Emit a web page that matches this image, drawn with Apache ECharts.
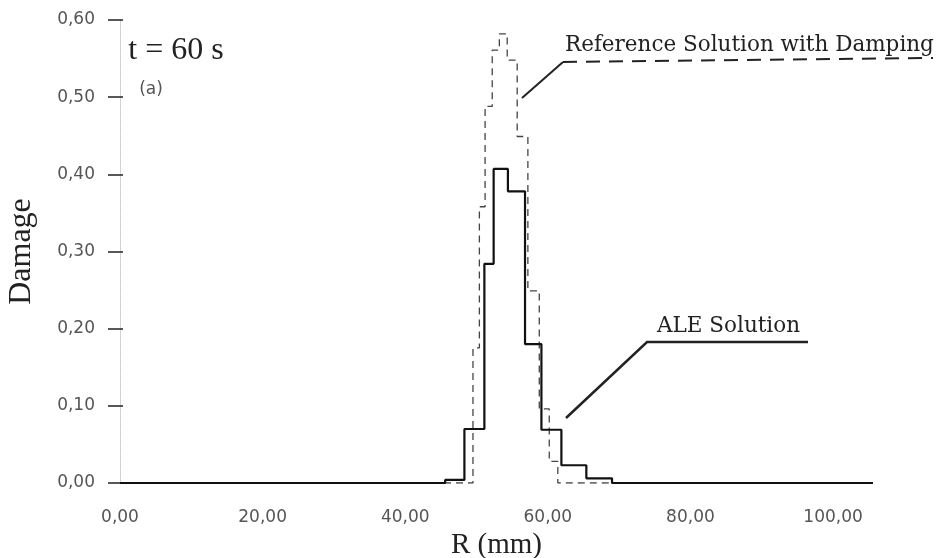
<!DOCTYPE html>
<html>
<head>
<meta charset="utf-8">
<script src="https://cdn.jsdelivr.net/npm/echarts@6/dist/echarts.min.js"></script>
<style>
  html, body { margin: 0; padding: 0; background: #fff; }
  #chart { width: 939px; height: 558px; }
</style>
</head>
<body>
<div id="chart"></div>
<script>
// step edges (mm) and damage value of each bin
const aleEdges = [0, 45.6, 48.3, 51.1, 52.4, 54.4, 56.8, 59.1, 61.9, 65.4, 69.0, 105.6];
const aleDamage = [0, 0.004, 0.070, 0.284, 0.407, 0.378, 0.180, 0.069, 0.023, 0.006, 0];

const refEdges = [0, 49.5, 50.4, 51.2, 52.2, 53.2, 54.3, 55.7, 57.2, 58.8, 60.2, 61.4, 105.6];
const refDamage = [0, 0.175, 0.358, 0.488, 0.561, 0.582, 0.548, 0.449, 0.249, 0.096, 0.028, 0];

const xTickValues = [0, 20, 40, 60, 80, 100];

const toSteps = (edges, vals) =>
    edges.map((e, i) => [e, vals[Math.min(i, vals.length - 1)]]);

const comma = (v) => v.toFixed(2).replace('.', ',');

const chart = echarts.init(document.getElementById('chart'));

chart.setOption({
    animation: false,
    backgroundColor: '#fff',
    grid: { left: 120, right: 66, top: 20, bottom: 75, outerBoundsMode: 'none' },
    xAxis: {
        type: 'value',
        min: 0,
        max: 105.6,
        interval: 20,
        name: 'R (mm)',
        nameLocation: 'middle',
        nameGap: 40,
        nameTextStyle: { fontFamily: 'Liberation Serif', fontSize: 29, color: '#222' },
        axisLine: { show: false },
        axisTick: { show: false },
        splitLine: { show: false },
        axisLabel: {
            margin: 26,
            fontFamily: 'DejaVu Sans',
            fontSize: 17,
            color: '#555',
            formatter: (v) => xTickValues.includes(v) ? comma(v) : ''
        }
    },
    yAxis: [
        {
            type: 'value',
            min: 0,
            max: 0.6,
            interval: 0.1,
            name: 'Damage',
            nameLocation: 'middle',
            nameGap: 82,
            nameTextStyle: { fontFamily: 'Liberation Serif', fontSize: 32, color: '#222' },
            axisLine: { show: true, lineStyle: { color: '#c8c8c8', type: 'dotted', width: 1 } },
            axisTick: { show: true, length: 12, lineStyle: { color: '#222', width: 1.5 } },
            splitLine: { show: false },
            axisLabel: {
                margin: 25,
                fontFamily: 'DejaVu Sans',
                fontSize: 17,
                color: '#555',
                formatter: comma
            }
        },
        {
            type: 'value',
            position: 'left',
            min: 0,
            max: 0.6,
            interval: 0.1,
            axisLine: { show: false },
            axisTick: { show: true, inside: true, length: 3, lineStyle: { color: '#222', width: 1.5 } },
            axisLabel: { show: false },
            splitLine: { show: false }
        }
    ],
    series: [
        {
            name: 'Reference Solution with Damping',
            type: 'line',
            step: 'end',
            symbol: 'none',
            data: toSteps(refEdges, refDamage),
            lineStyle: { color: '#444', width: 1.3, type: [7, 5] },
            z: 2
        },
        {
            name: 'ALE Solution',
            type: 'line',
            step: 'end',
            symbol: 'none',
            data: toSteps(aleEdges, aleDamage),
            lineStyle: { color: '#111', width: 2.2 },
            z: 3
        }
    ],
    graphic: [
        {
            type: 'text',
            style: {
                text: 't = 60 s', x: 176, y: 51,
                font: '32px "Liberation Serif"', fill: '#222',
                textAlign: 'center', textVerticalAlign: 'middle', align: 'center', verticalAlign: 'middle'
            }
        },
        {
            type: 'text',
            style: {
                text: '(a)', x: 151, y: 90,
                font: '17px "DejaVu Sans"', fill: '#555',
                textAlign: 'center', textVerticalAlign: 'middle', align: 'center', verticalAlign: 'middle'
            }
        },
        {
            type: 'text',
            style: {
                text: 'Reference Solution with Damping', x: 565, y: 45,
                font: '21.5px "DejaVu Serif"', fill: '#222',
                textAlign: 'left', textVerticalAlign: 'middle', align: 'left', verticalAlign: 'middle'
            }
        },
        {
            type: 'polyline',
            shape: { points: [[522, 98], [563, 62]] },
            style: { stroke: '#222', lineWidth: 2, fill: null }
        },
        {
            type: 'polyline',
            shape: { points: [[563, 62], [933, 58]] },
            style: { stroke: '#222', lineWidth: 2, lineDash: [14, 9], fill: null }
        },
        {
            type: 'text',
            style: {
                text: 'ALE Solution', x: 657, y: 326,
                font: '21.5px "DejaVu Serif"', fill: '#222',
                textAlign: 'left', textVerticalAlign: 'middle', align: 'left', verticalAlign: 'middle'
            }
        },
        {
            type: 'polyline',
            shape: { points: [[566, 418], [647, 342], [808, 342]] },
            style: { stroke: '#222', lineWidth: 2.5, fill: null }
        }
    ]
});
</script>
</body>
</html>
